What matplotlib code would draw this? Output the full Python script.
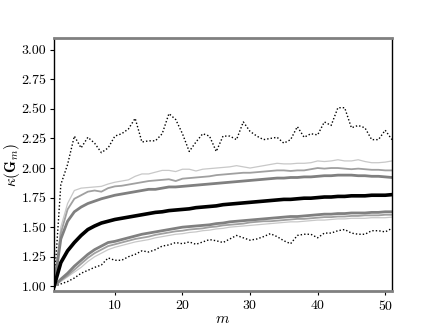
import matplotlib
matplotlib.use("Agg")
import matplotlib.pyplot as plt
from matplotlib.ticker import FormatStrFormatter
import numpy as np

plt.rcParams['font.family'] = 'serif'
plt.rcParams['font.serif'] = ['cmr10', 'DejaVu Serif']
plt.rcParams['mathtext.fontset'] = 'cm'
plt.rcParams['axes.formatter.use_mathtext'] = True

m = list(range(1, 52))

median = [1.00, 1.20, 1.30, 1.37, 1.43, 1.48, 1.51, 1.535, 1.55, 1.565, 1.575, 1.585, 1.595, 1.605, 1.615,
          1.625, 1.63, 1.64, 1.645, 1.65, 1.655, 1.665, 1.67, 1.675, 1.68, 1.69, 1.695, 1.70, 1.705, 1.71,
          1.715, 1.72, 1.725, 1.73, 1.735, 1.735, 1.74, 1.745, 1.745, 1.75, 1.755, 1.755, 1.76, 1.76, 1.765,
          1.765, 1.765, 1.77, 1.77, 1.77, 1.775]

upper_dark = [1.00, 1.40, 1.55, 1.63, 1.67, 1.70, 1.72, 1.74, 1.755, 1.77, 1.78, 1.79, 1.80, 1.81, 1.82,
              1.82, 1.83, 1.84, 1.84, 1.845, 1.85, 1.855, 1.86, 1.865, 1.87, 1.875, 1.88, 1.885, 1.89, 1.895,
              1.90, 1.905, 1.91, 1.915, 1.915, 1.92, 1.92, 1.925, 1.925, 1.93, 1.935, 1.935, 1.94, 1.94, 1.94,
              1.935, 1.935, 1.93, 1.93, 1.925, 1.92]

upper_mid = [1.00, 1.45, 1.65, 1.74, 1.77, 1.80, 1.81, 1.80, 1.83, 1.845, 1.85, 1.86, 1.87, 1.88, 1.89,
             1.895, 1.90, 1.905, 1.89, 1.91, 1.915, 1.92, 1.925, 1.93, 1.94, 1.945, 1.95, 1.955, 1.96, 1.96,
             1.965, 1.97, 1.975, 1.98, 1.98, 1.975, 1.98, 1.98, 1.99, 2.00, 1.995, 2.00, 2.00, 1.995, 1.99,
             1.995, 1.99, 1.985, 1.985, 1.98, 1.98]

upper_light = [1.00, 1.50, 1.70, 1.81, 1.83, 1.835, 1.84, 1.845, 1.865, 1.88, 1.89, 1.90, 1.93, 1.95, 1.95,
               1.965, 1.98, 1.98, 1.97, 1.99, 1.99, 1.975, 1.99, 1.995, 2.00, 2.005, 2.01, 2.02, 2.01, 2.00,
               2.01, 2.02, 2.03, 2.04, 2.035, 2.035, 2.04, 2.04, 2.045, 2.06, 2.055, 2.06, 2.07, 2.06, 2.06,
               2.07, 2.055, 2.045, 2.045, 2.05, 2.06]

lower_dark = [1.00, 1.06, 1.11, 1.17, 1.22, 1.27, 1.31, 1.34, 1.37, 1.38, 1.395, 1.41, 1.425, 1.44, 1.45,
              1.46, 1.47, 1.48, 1.49, 1.50, 1.505, 1.51, 1.515, 1.52, 1.53, 1.535, 1.545, 1.55, 1.555, 1.56,
              1.565, 1.57, 1.575, 1.58, 1.585, 1.59, 1.59, 1.595, 1.60, 1.605, 1.61, 1.61, 1.615, 1.615, 1.62,
              1.62, 1.62, 1.625, 1.625, 1.63, 1.63]

lower_mid = [1.00, 1.05, 1.09, 1.14, 1.19, 1.24, 1.28, 1.31, 1.34, 1.355, 1.37, 1.385, 1.40, 1.41, 1.42,
             1.435, 1.445, 1.455, 1.465, 1.47, 1.48, 1.485, 1.49, 1.50, 1.505, 1.515, 1.52, 1.525, 1.53, 1.54,
             1.545, 1.55, 1.55, 1.555, 1.56, 1.565, 1.57, 1.57, 1.575, 1.58, 1.585, 1.585, 1.59, 1.59, 1.595,
             1.595, 1.60, 1.60, 1.60, 1.605, 1.605]

lower_light = [1.00, 1.04, 1.08, 1.12, 1.16, 1.21, 1.25, 1.28, 1.31, 1.33, 1.345, 1.36, 1.375, 1.385, 1.395,
               1.41, 1.42, 1.43, 1.44, 1.445, 1.455, 1.46, 1.47, 1.475, 1.485, 1.49, 1.50, 1.505, 1.51, 1.515,
               1.52, 1.525, 1.53, 1.535, 1.54, 1.545, 1.545, 1.55, 1.555, 1.56, 1.56, 1.565, 1.57, 1.57, 1.575,
               1.575, 1.575, 1.58, 1.58, 1.58, 1.585]

maximum = [1.00, 1.86, 2.03, 2.27, 2.17, 2.26, 2.21, 2.13, 2.17, 2.27, 2.29, 2.33, 2.42, 2.22, 2.23,
           2.23, 2.29, 2.46, 2.41, 2.29, 2.14, 2.22, 2.29, 2.27, 2.14, 2.27, 2.27, 2.24, 2.39, 2.31,
           2.27, 2.24, 2.25, 2.26, 2.21, 2.24, 2.35, 2.26, 2.29, 2.28, 2.39, 2.36, 2.51, 2.51, 2.34,
           2.36, 2.34, 2.24, 2.24, 2.32, 2.24]

minimum = [1.00, 1.02, 1.04, 1.07, 1.11, 1.135, 1.16, 1.18, 1.24, 1.22, 1.22, 1.25, 1.27, 1.30, 1.29,
           1.31, 1.34, 1.35, 1.37, 1.36, 1.375, 1.355, 1.375, 1.395, 1.385, 1.37, 1.40, 1.43, 1.41, 1.39,
           1.40, 1.42, 1.445, 1.42, 1.385, 1.36, 1.43, 1.44, 1.44, 1.41, 1.45, 1.45, 1.47, 1.48, 1.45,
           1.44, 1.44, 1.47, 1.47, 1.46, 1.49]

y_ticks = [1.00, 1.25, 1.50, 1.75, 2.00, 2.25, 2.50, 2.75, 3.00]
x_ticks = [10, 20, 30, 40, 50]

fig = plt.figure(figsize=(4.36, 3.27), dpi=100)
ax = fig.add_axes([0.124, 0.110, 0.775, 0.774])

ax.plot(m, maximum, color='black', lw=1.0, ls=(0, (1, 1.5)))
ax.plot(m, minimum, color='black', lw=1.0, ls=(0, (1, 1.5)))
ax.plot(m, upper_light, color='#c8c8c8', lw=0.9)
ax.plot(m, lower_light, color='#c8c8c8', lw=0.9)
ax.plot(m, upper_mid, color='#a0a0a0', lw=1.3)
ax.plot(m, lower_mid, color='#a0a0a0', lw=1.3)
ax.plot(m, upper_dark, color='#808080', lw=2.0)
ax.plot(m, lower_dark, color='#808080', lw=2.0)
ax.plot(m, median, color='black', lw=2.6)

ax.set_xlim(1, 51)
ax.set_ylim(0.96, 3.10)
ax.set_yticks(y_ticks)
ax.set_xticks(x_ticks)
ax.yaxis.set_major_formatter(FormatStrFormatter('%.2f'))
ax.tick_params(labelsize=10, length=3, width=0.8, direction='out', pad=2.5)

for s in ['top', 'bottom']:
    ax.spines[s].set_color('#808080')
    ax.spines[s].set_linewidth(2.0)
for s in ['left', 'right']:
    ax.spines[s].set_color('black')
    ax.spines[s].set_linewidth(1.0)

ax.set_xlabel(r'$m$', fontsize=11)
ax.set_ylabel(r'$\kappa(\mathbf{G}_m)$', fontsize=11)
ax.xaxis.set_label_coords(0.5, -0.085)
ax.yaxis.set_label_coords(-0.095, 0.5)

fig.savefig('out.png', dpi=100)
